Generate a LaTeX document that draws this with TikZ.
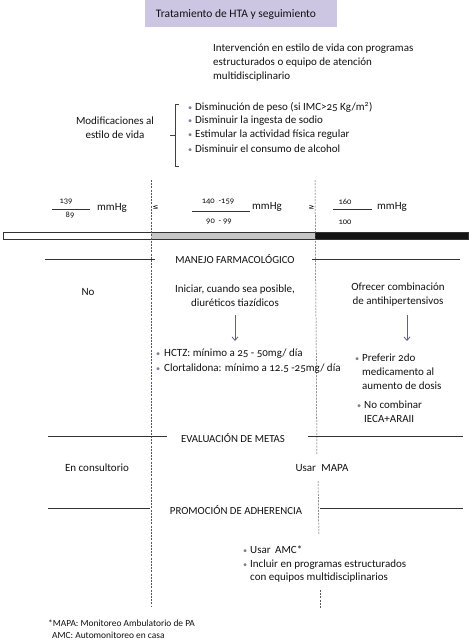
\documentclass[tikz,border=0pt]{standalone}
\usepackage{fontspec}
\setmainfont{Carlito}[Numbers=OldStyle]
\newfontfamily\symf{DejaVu Sans}
\usetikzlibrary{arrows.meta}
\definecolor{titlebg}{HTML}{CDC6E3}
\definecolor{arrowc}{HTML}{665A92}
\definecolor{bulletc}{HTML}{80809A}
\definecolor{txtc}{HTML}{111111}
\newcommand{\bul}{\makebox[7pt][l]{\textcolor{bulletc}{\scalebox{0.75}{•}}}}
\newcommand{\ind}{\hspace*{7pt}}
\begin{document}
\begin{tikzpicture}[x=1pt,y=-1pt,
  txt/.style={inner sep=0pt, font=\fontsize{11}{13.6}\selectfont, text=txtc},
  lst/.style={txt, align=left, anchor=west},
  ctr/.style={txt, align=center},
  num/.style={inner sep=0pt, font=\fontsize{8.5}{10}\selectfont, text=txtc},
  head/.style={inner sep=0pt, font=\fontsize{10.8}{12}\selectfont, text=txtc},
  foot/.style={inner sep=0pt, font=\fontsize{9.4}{12}\selectfont, text=txtc, anchor=west},
  hline/.style={draw=black!80, line width=0.6pt},
  fracline/.style={draw=black!80, line width=0.5pt},
  vdash/.style={draw=black!65, line width=0.5pt, dash pattern=on 2pt off 1.2pt},
  arr/.style={draw=arrowc, line width=0.8pt, -{Straight Barb[length=3.5pt,width=6pt]}},
  brk/.style={draw=black!75, line width=0.6pt},
  titlebox/.style={fill=titlebg, minimum width=192pt, minimum height=27pt, inner sep=0pt}
]
\useasboundingbox (0,0) rectangle (472,643);

% title
\node[titlebox] (title) at (241,13.5) {};
\node[txt, font=\fontsize{11.5}{13}\selectfont] (titletxt) at (236,14) {Tratamiento de HTA y seguimiento};

% intervention text
\node[lst, anchor=north west] (interv) at (213,44) {Intervención en estilo de vida con programas\\estructurados o equipo de atención\\multidisciplinario};

% lifestyle
\node[ctr] (modif) at (115,128) {Modificaciones al\\estilo de vida};
\draw[brk] (179,104) -- (175,104) -- (175,166) -- (179,166);
\draw[brk] (175,135) -- (170,135);
\node[lst] (b1) at (188,107) {\bul Disminución de peso (si IMC>25 Kg/m\textsuperscript{2})};
\node[lst] (b2) at (188,121) {\bul Disminuir la ingesta de sodio};
\node[lst] (b3) at (188,134.5) {\bul Estimular la actividad física regular};
\node[lst] (b4) at (188,148.5) {\bul Disminuir el consumo de alcohol};

% fractions
\node[num] (n139) at (66,202) {139};
\node[num] (n89) at (70,215) {89};
\draw[fracline] (52,209) -- (90,209);
\node[txt] (mm1) at (112,208) {mmHg};
\node[inner sep=0pt, font=\symf\fontsize{7}{8}\selectfont] (le) at (155.5,207) {≤};

\node[num] (n140) at (218,202) {140\ \ -159};
\node[num] (n90) at (219,222) {90\ \ - 99};
\draw[fracline] (192,211) -- (250,211);
\node[txt] (mm2) at (267,207) {mmHg};
\node[inner sep=0pt, font=\symf\fontsize{7}{8}\selectfont] (ge) at (311.5,207) {≥};

\node[num] (n160) at (345,202) {160};
\node[num] (n100) at (345,222) {100};
\draw[fracline] (333,209) -- (372,209);
\node[txt] (mm3) at (392,207) {mmHg};

% bar
\fill[white] (3,232) rectangle (151,239);
\fill[black!22] (151,232) rectangle (315,239);
\fill[black!92] (315,232) rectangle (468,239);
\draw[black!80, line width=0.5pt] (3,232) rectangle (468,239);

% dashed verticals
\coordinate (l1) at (151,180);
\coordinate (l2) at (151,607);
\draw[vdash] (l1) -- (l2);
\coordinate (r1) at (315,180);
\coordinate (r2) at (317,455);
\coordinate (r3) at (318,481);
\coordinate (r4) at (319,535);
\coordinate (r5) at (320,590);
\coordinate (r6) at (320,608);
\draw[vdash] (r1) -- (r2);
\draw[vdash] (r3) -- (r4);
\draw[vdash] (r5) -- (r6);

% MANEJO
\node[head] (h1) at (235,259) {MANEJO FARMACOLÓGICO};
\draw[hline] (45,259) -- (155,259);
\draw[hline] (312,259) -- (460,259);

\node[txt] (no) at (88,292.5) {No};
\node[ctr] (ini) at (235,296) {Iniciar, cuando sea posible,\\diuréticos tiazídicos};
\node[ctr] (ofr) at (398,294.5) {Ofrecer combinación\\de antihipertensivos};
\coordinate (a1s) at (235,315);
\coordinate (a1e) at (235,341);
\coordinate (a2s) at (407,315);
\coordinate (a2e) at (407,341);
\draw[arr] (a1s) -- (a1e);
\draw[arr] (a2s) -- (a2e);

\node[lst] (hctz) at (156,354) {\makebox[8pt][l]{\textcolor{bulletc}{\scalebox{0.75}{•}}}HCTZ: mínimo a 25 - 50mg/ día};
\node[lst] (clor) at (156,369) {\makebox[8pt][l]{\textcolor{bulletc}{\scalebox{0.75}{•}}}Clortalidona: mínimo a 12.5 -25mg/ día};

\node[lst, anchor=north west] (pref) at (355,354) {\bul Preferir 2do\\\ind medicamento al\\\ind aumento de dosis};
\node[lst, anchor=north west] (nocomb) at (357,401) {\bul No combinar\\\ind IECA+ARAII};

% EVALUACION
\node[head] (h2) at (233,438) {EVALUACIÓN DE METAS};
\draw[hline] (48,436) -- (167,436);
\draw[hline] (308,436) -- (463,436);
\node[txt] (cons) at (97,468) {En consultorio};
\node[txt] (mapa) at (322,468) {Usar\hspace{3pt} MAPA};

% PROMOCION
\node[head] (h3) at (236,510) {PROMOCIÓN DE ADHERENCIA};
\draw[hline] (48,508) -- (150,508);
\draw[hline] (320,508) -- (463,508);

\node[lst] (amc) at (243,550) {\bul Usar\hspace{2pt} AMC*};
\node[lst, anchor=north west] (incl) at (243,559.5) {\bul Incluir en programas estructurados\\\ind con equipos multidisciplinarios};

% footnote
\node[foot] (f1) at (48,623) {*MAPA: Monitoreo Ambulatorio de PA};
\node[foot] (f2) at (52,635) {AMC: Automonitoreo en casa};
\end{tikzpicture}
\end{document}
